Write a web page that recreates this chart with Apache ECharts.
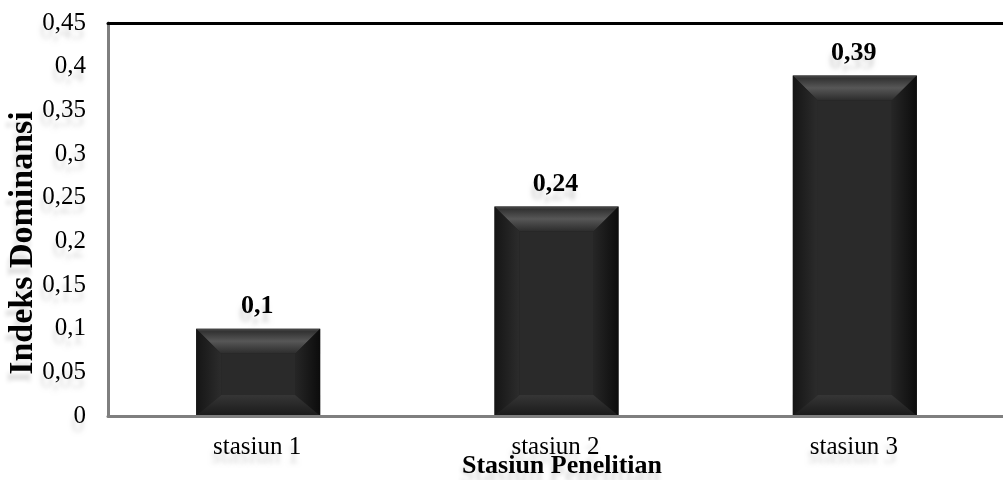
<!DOCTYPE html>
<html>
<head>
<meta charset="utf-8">
<script src="https://cdn.jsdelivr.net/npm/echarts@6/dist/echarts.min.js"></script>
<style>
html,body{margin:0;padding:0;background:#fff;}
#chart{width:1003px;height:480px;}
</style>
</head>
<body>
<div id="chart"></div>
<script>
const categories = ['stasiun 1', 'stasiun 2', 'stasiun 3'];
const values = [0.1, 0.24, 0.39];
const yAxisName = 'Indeks Dominansi';
const xAxisName = 'Stasiun Penelitian';

function fmt(v) {
  return String(+(+v).toFixed(2)).replace('.', ',');
}

const FONT = '"Liberation Serif", "Times New Roman", serif';
const shadow = {
  textShadowColor: 'rgba(0,0,0,0.14)',
  textShadowBlur: 4,
  textShadowOffsetX: -2,
  textShadowOffsetY: 9
};

const chart = echarts.init(document.getElementById('chart'));

function renderBar(params, api) {
  const idx = api.value(0);
  const val = api.value(1);
  const top = api.coord([idx, val]);
  const base = api.coord([idx, 0]);
  const w = 124;
  const x0 = top[0] - w / 2 + 1, x1 = top[0] + w / 2 + 1;
  const y0 = top[1], y1 = base[1];
  const h = y1 - y0;
  const bs = 25, bt = Math.min(25, h * 0.3), bb = Math.min(21, h * 0.25);
  const lin = (x, y, x2, y2, stops) => new echarts.graphic.LinearGradient(x, y, x2, y2, stops);
  return {
    type: 'group',
    children: [
      { type: 'rect', shape: { x: x0, y: y0, width: w, height: h }, style: { fill: '#1d1d1d' } },
      { type: 'polygon', shape: { points: [[x0, y0], [x1, y0], [x1 - bs, y0 + bt], [x0 + bs, y0 + bt]] },
        style: { fill: lin(0, 0, 0, 1, [
          { offset: 0, color: '#4a4a4a' }, { offset: 0.12, color: '#333' },
          { offset: 0.5, color: '#575757' }, { offset: 1, color: '#2c2c2c' }]) } },
      { type: 'polygon', shape: { points: [[x0, y0], [x0 + bs, y0 + bt], [x0 + bs, y1 - bb], [x0, y1]] },
        style: { fill: lin(0, 0, 1, 0, [
          { offset: 0, color: '#151515' }, { offset: 1, color: '#2c2c2c' }]) } },
      { type: 'polygon', shape: { points: [[x1, y0], [x1 - bs, y0 + bt], [x1 - bs, y1 - bb], [x1, y1]] },
        style: { fill: lin(0, 0, 1, 0, [
          { offset: 0, color: '#262626' }, { offset: 1, color: '#0c0c0c' }]) } },
      { type: 'polygon', shape: { points: [[x0, y1], [x0 + bs, y1 - bb], [x1 - bs, y1 - bb], [x1, y1]] },
        style: { fill: lin(0, 0, 0, 1, [
          { offset: 0, color: '#363636' }, { offset: 1, color: '#1a1a1a' }]) } },
      { type: 'rect', shape: { x: x0 + bs, y: y0 + bt, width: w - 2 * bs, height: h - bt - bb },
        style: { fill: '#2a2a2a' } },
      { type: 'text', x: top[0], y: y0 - 22,
        style: Object.assign({ text: fmt(val), fill: '#000', font: 'bold 26px ' + FONT,
          align: 'center', verticalAlign: 'middle' }, shadow) }
    ]
  };
}

chart.setOption({
  animation: false,
  grid: { left: 108, top: 23, width: 912, bottom: 64, containLabel: false },
  xAxis: [{
    type: 'category',
    data: categories,
    position: 'bottom',
    z: 5,
    axisLine: { show: true, lineStyle: { color: '#7f7f7f', width: 3 } },
    axisTick: { show: false },
    axisLabel: Object.assign({ color: '#000', fontFamily: FONT, fontSize: 25, margin: 19 }, shadow),
    splitLine: { show: false }
  }, {
    type: 'category',
    data: categories,
    position: 'top',
    z: 5,
    axisLine: { show: true, lineStyle: { color: '#000', width: 3 } },
    axisTick: { show: false },
    axisLabel: { show: false },
    splitLine: { show: false }
  }],
  yAxis: {
    type: 'value',
    min: 0, max: 0.45, interval: 0.05,
    z: 5,
    axisLine: { show: true, lineStyle: { color: '#7f7f7f', width: 3 } },
    axisTick: { show: false },
    splitLine: { show: false },
    axisLabel: Object.assign({ color: '#000', fontFamily: FONT, fontSize: 25, margin: 22,
      formatter: fmt }, shadow)
  },
  graphic: [{
    type: 'text', x: 23, y: 243, rotation: Math.PI / 2,
    style: Object.assign({ text: yAxisName, fill: '#000', font: 'bold 34px ' + FONT,
      align: 'center', verticalAlign: 'middle' }, shadow)
  }, {
    type: 'text', x: 562, y: 466,
    style: Object.assign({ text: xAxisName, fill: '#000', font: 'bold 26px ' + FONT,
      align: 'center', verticalAlign: 'middle' }, shadow)
  }],
  series: [{
    type: 'custom',
    renderItem: renderBar,
    data: values.map((v, i) => [i, v]),
    encode: { x: 0, y: 1 },
    z: 2
  }]
});
</script>
</body>
</html>
